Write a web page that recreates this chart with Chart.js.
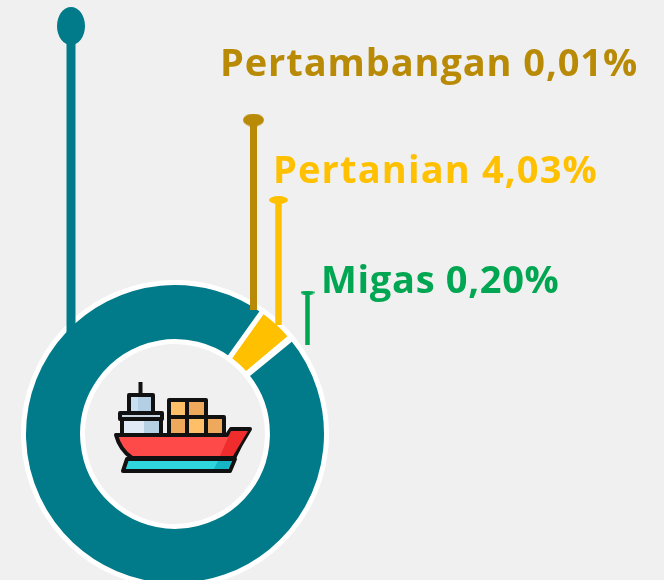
<!DOCTYPE html>
<html>
<head>
<meta charset="utf-8">
<title>Pangsa ekspor</title>
<script src="https://cdn.jsdelivr.net/npm/chart.js@4"></script>
<style>
  html, body { margin: 0; height: 100%; background: #f0f0f0; overflow: hidden; }
  #page { position: relative; width: 664px; height: 580px; overflow: hidden; }
  #ringChart { position: absolute; left: 21px; top: 280px; }
  #pinChart { position: absolute; left: 0; top: 0; }
  #ship { position: absolute; left: 90px; top: 370px; }
  .lbl { position: absolute; font: bold 38px "Open Sans", sans-serif; letter-spacing: 0.9px; white-space: nowrap; line-height: 44px; }
  #lbl1 { letter-spacing: 1.15px; }
  #lbl2 { letter-spacing: 0.7px; }
</style>
</head>
<body>
<div id="page">
  <canvas id="ringChart" width="308" height="308"></canvas>
  <svg id="ship" width="180" height="120" viewBox="0 0 180 120" stroke="#111" stroke-width="4" stroke-linejoin="round">
    <line x1="50.5" y1="12" x2="50.5" y2="25"/>
    <rect x="39" y="25" width="24" height="18" fill="#c8e0f2"/>
    <rect x="48" y="27" width="13" height="14" fill="#b4cfe4" stroke="none"/>
    <rect x="32" y="48" width="39" height="17" fill="#dfeaf6"/>
    <rect x="54" y="50" width="15" height="13" fill="#b6d0e3" stroke="none"/>
    <rect x="30" y="43" width="42" height="6" fill="#c9d6df"/>
    <rect x="79" y="30" width="18" height="17" fill="#fdbf67"/>
    <rect x="97" y="30" width="19" height="17" fill="#eea95d"/>
    <rect x="79" y="47" width="18" height="18" fill="#eea95d"/>
    <rect x="97" y="47" width="19" height="18" fill="#fdbf67"/>
    <rect x="116" y="47" width="18" height="18" fill="#eea95d"/>
    <path d="M26 65 L137 65 L141 59 L160 59 L150 76 L144 88 L42 88 Q30 80 26 65 Z" fill="#ff4a4a"/>
    <path d="M141 61 L158 61 L149 76 L143 86 L130 86 Z" fill="#f02c2c" stroke="none"/>
    <path d="M37 89 L145 89 L140 101 L33 101 Z" fill="#2fd6dd"/>
    <path d="M128 91 L142 91 L138 99 L124 99 Z" fill="#15b5c6" stroke="none"/>
  </svg>
  <canvas id="pinChart" width="664" height="580"></canvas>
  <span class="lbl" id="lbl0"></span>
  <span class="lbl" id="lbl1"></span>
  <span class="lbl" id="lbl2"></span>
</div>
<script>
// slices, clockwise from the first edge of the yellow one
let categories = ['Pertanian', 'Migas', 'Pertambangan', 'Lainnya'];
let shares = [4.03, 0.20, 0.01, 95.76];
let sliceColors = ['#ffc000', '#00a651', '#b98a06', '#017b89'];

// the pins in page pixels
let pinColors = ['#017b89', '#b98a06', '#ffc000', '#00a651'];
let pinX = [71, 253.5, 278.5, 307.5];
let pinTop = [26, 120, 200, 292.5];
let pinBase = [332, 310, 325, 345];
let pinWidth = [9, 7, 6.5, 4.5];
let headW = [28, 21, 19, 14];
let headH = [38, 13, 8, 4];

// text labels
let labelText = ['Pertambangan 0,01%', 'Pertanian 4,03%', 'Migas 0,20%'];
let labelColors = ['#b98a06', '#ffc000', '#00a651'];
let labelLeft = [220, 273, 321];
let labelTop = [39, 146, 256];

for (let i = 0; i < labelText.length; i++) {
  let el = document.getElementById('lbl' + i);
  el.textContent = labelText[i];
  el.style.color = labelColors[i];
  el.style.left = labelLeft[i] + 'px';
  el.style.top = labelTop[i] + 'px';
}

new Chart(document.getElementById('ringChart'), {
  type: 'doughnut',
  data: {
    labels: categories,
    datasets: [{
      data: shares,
      backgroundColor: sliceColors,
      borderColor: '#ffffff',
      borderWidth: 5
    }]
  },
  options: {
    responsive: false,
    animation: false,
    rotation: 35.5,
    cutout: '61%',
    layout: { padding: 0 },
    plugins: { legend: { display: false }, tooltip: { enabled: false } }
  }
});

function makeHead(w, h, color) {
  let c = document.createElement('canvas');
  c.width = w;
  c.height = h;
  let ctx = c.getContext('2d');
  ctx.fillStyle = color;
  ctx.beginPath();
  ctx.ellipse(w / 2, h / 2, w / 2, h / 2, 0, 0, Math.PI * 2);
  ctx.fill();
  return c;
}

let pinSets = [];
for (let i = 0; i < pinX.length; i++) {
  pinSets.push({
    data: [{ x: pinX[i], y: pinBase[i] }, { x: pinX[i], y: pinTop[i] }],
    showLine: true,
    borderColor: pinColors[i],
    borderWidth: pinWidth[i],
    borderCapStyle: 'butt',
    pointStyle: [false, makeHead(headW[i], headH[i], pinColors[i])],
    pointRadius: 10
  });
}

new Chart(document.getElementById('pinChart'), {
  type: 'scatter',
  data: { datasets: pinSets },
  options: {
    responsive: false,
    animation: false,
    layout: { padding: 0, autoPadding: false },
    scales: {
      x: { display: false, min: 0, max: 664 },
      y: { display: false, min: 0, max: 580, reverse: true }
    },
    plugins: { legend: { display: false }, tooltip: { enabled: false } }
  }
});
</script>
</body>
</html>
